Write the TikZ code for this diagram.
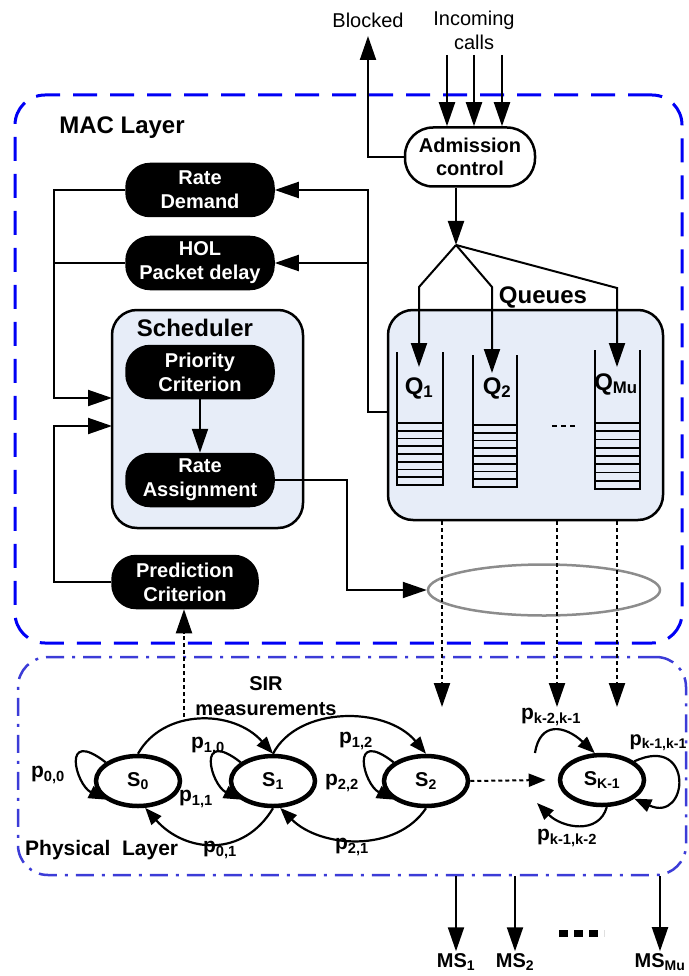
\documentclass[tikz,border=0pt]{standalone}
\usepackage{fontspec}
\setmainfont{Liberation Sans}
\usetikzlibrary{arrows.meta,shapes.geometric}
\definecolor{macblue}{RGB}{0,0,245}
\definecolor{phyblue}{RGB}{60,60,215}
\definecolor{grpfill}{RGB}{231,237,248}
\definecolor{ellgray}{RGB}{140,140,140}
\begin{document}
\begin{tikzpicture}[x=1pt,y=-1pt,
  ln/.style={line width=2pt},
  arr/.style={line width=2pt,-{Triangle[length=24pt,width=16pt]}},
  sarr/.style={line width=2.2pt,-{Triangle[length=17pt,width=13pt]}},
  blk/.style={draw=black,line width=1.5pt,fill=black,text=white,rounded corners=24pt,minimum width=148pt,minimum height=53pt,align=center,font=\fontsize{20}{24}\selectfont\bfseries,inner sep=0pt},
  grp/.style={draw=black,line width=2.5pt,fill=grpfill,rounded corners=25pt,inner sep=0pt},
  state/.style={ellipse,draw=black,line width=4.5pt,fill=white,minimum width=84pt,minimum height=50pt,inner sep=0pt,font=\fontsize{20}{24}\selectfont\bfseries},
  lab/.style={font=\fontsize{21}{24}\selectfont\bfseries,inner sep=0pt},
  title/.style={font=\fontsize{24}{28}\selectfont\bfseries,inner sep=0pt},
  plain/.style={font=\fontsize{20}{24}\selectfont,inner sep=0pt,align=center},
  dots/.style={line width=2pt,dash pattern=on 4pt off 3pt},
]
\useasboundingbox (0,0) rectangle (688,976);

% layer boxes
\node[draw=macblue,line width=3pt,dash pattern=on 24pt off 13pt,rounded corners=30pt,minimum width=667pt,minimum height=548pt,inner sep=0pt] (mac) at (348.5,369) {};
\node[draw=phyblue,line width=2.5pt,dash pattern=on 18pt off 8pt on 3pt off 8pt,rounded corners=30pt,minimum width=668pt,minimum height=218pt,inner sep=0pt] (phy) at (352,766) {};
\node[title] (maclab) at (122,128) {MAC Layer};
\node[font=\fontsize{21}{24}\selectfont\bfseries,inner sep=0pt,anchor=west] (phylab) at (25,850) {Physical~~Layer};

% group boxes
\node[grp,minimum width=191pt,minimum height=218pt] (sched) at (207.5,419) {};
\node[grp,minimum width=275pt,minimum height=210pt] (qbox) at (525.5,415) {};
\node[title] (schedlab) at (195,328) {Scheduler};
\node[title] (queueslab) at (543,297) {Queues};

% black nodes
\node[blk] (rd) at (200,190) {Rate\\Demand};
\node[blk] (hol) at (200,263) {HOL\\Packet delay};
\node[blk] (pri) at (200,372) {Priority\\Criterion};
\node[blk] (ras) at (200,480) {Rate\\Assignment};
\node[blk,minimum width=146pt] (pred) at (185,582) {Prediction\\Criterion};

% admission
\node[draw=black,line width=2.5pt,fill=white,rounded corners=28pt,minimum width=130pt,minimum height=59pt,align=center,font=\fontsize{20}{23}\selectfont\bfseries,inner sep=0pt] (adm) at (470,157) {Admission\\control};
\node[plain] (blocked) at (368,20) {Blocked};
\node[plain] (inc) at (474,30) {Incoming\\calls};
\coordinate (blk) at (368,36);
\draw[arr] (adm.west) -| (blk);
\coordinate (i1) at (447,55);
\coordinate (i2) at (474,55);
\coordinate (i3) at (502,55);
\foreach \c in {i1,i2,i3} \draw[arr] (\c) -- (\c |- adm.north);

% admission to queues
\coordinate (jn) at (456,245);
\draw[arr] (adm.south -| jn) -- (jn);
\coordinate (q1in) at (419,367);
\coordinate (q2in) at (492,373);
\coordinate (q3in) at (617,367);
\draw[arr] (jn) -- (419,287) -- (q1in);
\draw[arr] (jn) -- (492,287) -- (q2in);
\draw[arr] (jn) -- (617,288) -- (q3in);

% queue stacks
\foreach \xa/\xb/\yt/\ys/\yb in {397/443/352/423/485, 473/517/355/425/487, 595/640/350/423/489}{
  \draw[line width=2.5pt] (\xa,\yt) -- (\xa,\yb) -- (\xb,\yb) -- (\xb,\yt);
  \foreach \i in {0,...,7}
    \draw[line width=1.8pt] (\xa,{\ys+\i*(\yb-\ys)/8}) -- (\xb,{\ys+\i*(\yb-\ys)/8});
}
\node[font=\fontsize{24}{28}\selectfont\bfseries,inner sep=0pt] (q1) at (419,388) {Q\textsubscript{1}};
\node[font=\fontsize{24}{28}\selectfont\bfseries,inner sep=0pt] (q2) at (497,388) {Q\textsubscript{2}};
\node[font=\fontsize{24}{28}\selectfont\bfseries,inner sep=0pt] (q3) at (616,384) {Q\textsubscript{Mu}};
\draw[line width=2.5pt,dash pattern=on 5pt off 4pt] (552,426) -- (576,426);

% feedback to rate demand / HOL
\coordinate (vr) at (368,412);
\draw[arr] (qbox.west |- vr) -- (vr) |- (rd.east);
\draw[arr] (vr |- hol.east) -- (hol.east);

% left lines into scheduler
\coordinate (s1) at (112,398);
\coordinate (s2) at (112,426);
\draw[arr] (rd.west) -| (54,398) -- (s1);
\draw[ln] (hol.west) -- (54,263);
\draw[arr] (pred.west) -| (54,426) -- (s2);
\draw[arr] (pri) -- (ras);

% rate assignment to ellipse
\node[ellipse,draw=ellgray,line width=2.5pt,minimum width=232pt,minimum height=51pt,inner sep=0pt] (ell) at (544,590) {};
\draw[arr] (ras.east) -- (347,480) |- (ell.west);

% dotted lines from queues to physical layer
\coordinate (d1) at (442,707);
\coordinate (d2) at (557,707);
\coordinate (d3) at (617,707);
\foreach \d in {d1,d2,d3} \draw[dots,-{Triangle[length=24pt,width=16pt]}] (qbox.south -| \d) -- (\d);

% SIR
\node[font=\fontsize{20}{25}\selectfont\bfseries,inner sep=0pt,align=center] (sir) at (266,696) {SIR\\measurements};
\coordinate (sirs) at (184,717);
\draw[dots,-{Triangle[length=24pt,width=16pt]}] (sirs) -- (sirs |- pred.south);

% states
\node[state] (S0) at (138,781) {S\textsubscript{0}};
\node[state] (S1) at (273,781) {S\textsubscript{1}};
\node[state] (S2) at (426,781) {S\textsubscript{2}};
\node[state] (SK) at (602,780) {S\textsubscript{K-1}};

\draw[sarr] (S0.north) .. controls +(25,-45) and +(-40,-45) .. (S1.north);
\draw[sarr] (S1.north) .. controls +(25,-48) and +(-40,-48) .. (S2.north);
\draw[sarr] (S2.south) .. controls +(-30,45) and +(40,40) .. (S1.-75);
\draw[sarr] (S1.south) .. controls +(-30,50) and +(40,45) .. (S0.-75);
\draw[sarr] (S0.150) .. controls +(-45,-35) and +(-30,-15) .. (S0.210);
\draw[sarr] (S1.150) .. controls +(-45,-35) and +(-30,-15) .. (S1.210);
\draw[sarr] (S2.150) .. controls +(-45,-35) and +(-30,-15) .. (S2.210);
\draw[sarr] (SK.30) .. controls +(60,-28) and +(55,25) .. (SK.-30);
\draw[dots,-{Triangle[length=17pt,width=13pt]}] (S2.east) -- ([xshift=-12pt]SK.west);
\coordinate (pa) at (535,753);
\coordinate (pb) at (537,803);
\draw[sarr] (pa) .. controls +(5,-32) and +(-30,-28) .. (SK.105);
\draw[sarr] (SK.-80) .. controls +(-8,28) and +(25,25) .. (pb);

% probability labels
\node[lab] (l00) at (48,775) {p\textsubscript{0,0}};
\node[lab] (l10) at (208,746) {p\textsubscript{1,0}};
\node[lab] (l11) at (196,799) {p\textsubscript{1,1}};
\node[lab] (l12) at (356,741) {p\textsubscript{1,2}};
\node[lab] (l22) at (342,783) {p\textsubscript{2,2}};
\node[lab] (l01) at (220,850) {p\textsubscript{0,1}};
\node[lab] (l21) at (352,847) {p\textsubscript{2,1}};
\node[lab] (lk2) at (551,717) {p\textsubscript{k-2,k-1}};
\node[font=\fontsize{20}{24}\selectfont\bfseries,inner sep=0pt,anchor=east] (lk1) at (687,743) {p\textsubscript{k-1,k-1}};
\node[lab] (lk12) at (567,838) {p\textsubscript{k-1,k-2}};

% mobile stations
\node[font=\fontsize{20}{24}\selectfont\bfseries,inner sep=0pt] (ms1) at (456,962) {MS\textsubscript{1}};
\node[font=\fontsize{20}{24}\selectfont\bfseries,inner sep=0pt] (ms2) at (515,962) {MS\textsubscript{2}};
\node[font=\fontsize{20}{24}\selectfont\bfseries,inner sep=0pt] (ms3) at (660,962) {MS\textsubscript{Mu}};
\foreach \m in {ms1,ms2,ms3} \draw[arr] (phy.south -| \m) -- ([yshift=2pt]\m.north);
\draw[line width=7pt,dash pattern=on 9pt off 6pt] (559,933) -- (604,933);
\end{tikzpicture}
\end{document}
